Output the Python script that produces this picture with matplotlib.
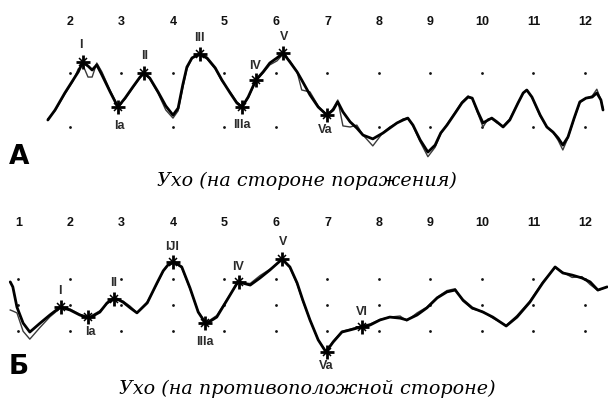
import matplotlib
matplotlib.use("Agg")
import matplotlib.pyplot as plt

# ---------------- data ----------------
# Panel A (affected side): latency (ms) and amplitude (grid units)
a_time = [1.57, 1.71, 1.90, 2.06, 2.16, 2.25, 2.35, 2.43, 2.52, 2.62, 2.78, 2.93, 3.07, 3.22, 3.36,
          3.44, 3.55, 3.71, 3.86, 4.00, 4.10, 4.19, 4.27, 4.37, 4.52, 4.66, 4.82, 4.95, 5.11, 5.24,
          5.34, 5.46, 5.61, 5.75, 5.88, 6.02, 6.14, 6.27, 6.41, 6.50, 6.66, 6.82, 6.99, 7.11, 7.20,
          7.30, 7.44, 7.57, 7.69, 7.88, 8.08, 8.21, 8.35, 8.47, 8.56, 8.66, 8.80, 8.95, 9.09, 9.20,
          9.32, 9.48, 9.61, 9.73, 9.81, 9.92, 10.02, 10.12, 10.19, 10.29, 10.41, 10.54, 10.70, 10.80,
          10.87, 10.97, 11.13, 11.26, 11.38, 11.48, 11.57, 11.67, 11.79, 11.90, 12.02, 12.14, 12.23,
          12.31, 12.35]
a_trace1 = [-0.74, -0.37, 0.26, 0.74, 1.04, 1.41, 1.26, 1.11, 1.30, 0.93, 0.30, -0.26, 0.07, 0.48, 0.85,
            1.00, 0.81, 0.30, -0.22, -0.56, -0.30, 0.56, 1.22, 1.56, 1.70, 1.56, 1.19, 0.74, 0.26, -0.11,
            -0.26, 0.11, 0.74, 1.04, 1.37, 1.56, 1.74, 1.41, 1.04, 0.74, 0.19, -0.26, -0.56, -0.37, -0.07,
            -0.44, -0.81, -1.04, -1.30, -1.44, -1.22, -1.04, -0.85, -0.74, -0.67, -0.93, -1.48, -1.93, -1.67, -1.22,
            -0.93, -0.48, -0.11, 0.11, 0.07, -0.44, -0.85, -0.74, -0.67, -0.81, -1.00, -0.74, -0.11, 0.26,
            0.37, 0.11, -0.56, -1.00, -1.19, -1.41, -1.67, -1.37, -0.67, -0.07, 0.07, 0.11, 0.26,
            0.00, -0.37]
a_trace2 = [-0.70, -0.40, 0.22, 0.70, 1.15, 1.30, 0.85, 0.85, 1.37, 1.04, 0.35, -0.22, 0.04, 0.45, 0.82,
            0.98, 0.78, 0.25, -0.37, -0.67, -0.40, 0.45, 1.15, 1.55, 1.68, 1.52, 1.15, 0.70, 0.30, -0.07,
            -0.26, 0.07, 0.70, 1.00, 1.30, 1.45, 1.70, 1.45, 1.04, 0.37, 0.30, -0.22, -0.60, -0.30, 0.00,
            -0.96, -1.00, -0.93, -1.30, -1.70, -1.20, -1.00, -0.85, -0.70, -0.67, -0.96, -1.55, -2.10, -1.75, -1.25,
            -0.90, -0.45, -0.07, 0.15, 0.07, -0.50, -1.00, -0.70, -0.70, -0.85, -0.96, -0.70, -0.10, 0.26,
            0.37, 0.10, -0.60, -1.00, -1.20, -1.50, -1.85, -1.40, -0.70, -0.10, 0.07, 0.15, 0.40,
            0.00, -0.30]
a_peak_names = ["I", "Ia", "II", "III", "IIIa", "IV", "V", "Va"]
a_peak_time = [2.25, 2.93, 3.44, 4.52, 5.34, 5.61, 6.14, 6.99]
a_peak_amp = [1.41, -0.26, 1.00, 1.70, -0.26, 0.74, 1.74, -0.56]
a_label_time = [2.21, 2.95, 3.44, 4.52, 5.34, 5.59, 6.16, 6.95]
a_label_amp = [2.04, -0.96, 1.63, 2.30, -0.93, 1.26, 2.33, -1.11]
a_ticks = [2, 3, 4, 5, 6, 7, 8, 9, 10, 11, 12]
a_dot_rows = [1, -1]

# Panel B (opposite side)
b_time = [0.84, 0.89, 0.97, 1.09, 1.22, 1.42, 1.61, 1.81, 2.00, 2.19, 2.37, 2.58, 2.72, 2.87, 3.03,
          3.17, 3.30, 3.50, 3.69, 3.81, 3.90, 4.02, 4.17, 4.33, 4.49, 4.64, 4.85, 5.05, 5.26, 5.50,
          5.69, 5.88, 6.12, 6.27, 6.41, 6.52, 6.66, 6.82, 6.97, 7.11, 7.28, 7.44, 7.65, 7.83, 8.02,
          8.21, 8.41, 8.54, 8.74, 8.93, 9.13, 9.32, 9.48, 9.63, 9.81, 10.02, 10.21, 10.47, 10.68, 10.93,
          11.18, 11.42, 11.57, 11.75, 11.94, 12.10, 12.25, 12.43]
b_trace1 = [0.88, 0.69, -0.08, -0.69, -1.03, -0.69, -0.38, -0.08, -0.19, -0.38, -0.50, -0.27, 0.08, 0.27, 0.11,
            -0.11, -0.30, 0.08, 0.84, 1.30, 1.52, 1.64, 1.45, 0.65, -0.27, -0.72, -0.46, 0.19, 0.88, 0.76,
            1.03, 1.33, 1.75, 1.45, 0.84, 0.19, -0.57, -1.33, -1.79, -1.41, -1.03, -0.95, -0.84, -0.76, -0.57,
            -0.46, -0.50, -0.57, -0.38, -0.11, 0.27, 0.50, 0.57, 0.19, -0.11, -0.27, -0.46, -0.80, -0.46, 0.11,
            0.84, 1.45, 1.22, 1.14, 1.03, 0.88, 0.57, 0.69]
b_trace2 = [-0.19, -0.23, -0.30, -1.00, -1.30, -0.85, -0.45, -0.12, -0.15, -0.35, -0.46, -0.22, 0.05, 0.24, 0.15,
            -0.05, -0.30, 0.12, 0.80, 1.28, 1.52, 1.62, 1.42, 0.62, -0.25, -0.68, -0.40, 0.22, 0.85, 0.82,
            1.12, 1.36, 1.72, 1.42, 0.80, 0.15, -0.57, -1.33, -1.76, -1.38, -1.00, -0.92, -0.80, -0.72, -0.55,
            -0.46, -0.42, -0.60, -0.30, -0.08, 0.30, 0.55, 0.62, 0.15, -0.15, -0.25, -0.50, -0.78, -0.40, 0.15,
            0.88, 1.42, 1.25, 1.05, 1.08, 0.78, 0.55, 0.69]
b_peak_names = ["I", "Ia", "II", "IJI", "IIIa", "IV", "V", "Va", "VI"]
b_peak_time = [1.83, 2.35, 2.85, 4.00, 4.62, 5.28, 6.12, 6.99, 7.67]
b_peak_amp = [-0.08, -0.46, 0.23, 1.64, -0.69, 0.88, 1.75, -1.79, -0.84]
b_label_time = [1.81, 2.39, 2.85, 3.98, 4.62, 5.26, 6.14, 6.97, 7.67]
b_label_amp = [0.53, -1.03, 0.84, 2.21, -1.41, 1.45, 2.40, -2.32, -0.27]
b_ticks = [1, 2, 3, 4, 5, 6, 7, 8, 9, 10, 11, 12]
b_dot_rows = [1, 0, -1]

caption_a = "Ухо (на стороне поражения)"
caption_b = "Ухо (на противоположной стороне)"

# ---------------- figure ----------------
W, H = 608, 403
fig = plt.figure(figsize=(W / 100, H / 100), dpi=100)

label_font = dict(family=["Liberation Sans Narrow", "Liberation Sans", "DejaVu Sans"], fontsize=9,
                  fontweight="bold", color="#2a2a2a", ha="center", va="center", zorder=5,
                  bbox=dict(facecolor="white", edgecolor="none", pad=0.3))
tick_font = dict(family=["Liberation Sans Narrow", "Liberation Sans", "DejaVu Sans"], fontsize=9,
                 fontweight="bold", color="#111111", ha="center", va="center")


def panel(rect, ylim, time, tr1, tr2, ptime, pamp, names, ltime, lamp, ticks, rows, tick_y):
    ax = fig.add_axes(rect)
    ax.set_xlim(0.641, 12.447)
    ax.set_ylim(*ylim)
    ax.axis("off")
    for r in rows:
        ax.plot(ticks, [r] * len(ticks), ls="none", marker="o", ms=2.0, color="#111111", mew=0,
                zorder=1)
    ax.plot(time, tr2, color="#3a3a3a", lw=1.0, solid_joinstyle="round", zorder=2)
    ax.plot(time, tr1, color="black", lw=2.0, solid_joinstyle="round", solid_capstyle="round",
            zorder=3)
    for n, x, y in zip(names, ltime, lamp):
        ax.text(x, y, n, **label_font)
    ax.plot(ptime, pamp, ls="none", marker="+", ms=10, mew=2.0, color="black", zorder=6)
    ax.plot(ptime, pamp, ls="none", marker="x", ms=5.5, mew=1.1, color="black", zorder=6)
    for k in ticks:
        ax.text(k, tick_y, str(k), **tick_font)
    return ax


panel([0, 1 - 200 / H, 1, 200 / H], (-3.704, 3.704), a_time, a_trace1, a_trace2,
      a_peak_time, a_peak_amp, a_peak_names, a_label_time, a_label_amp, a_ticks, a_dot_rows, 2.89)
panel([0, 0, 1, 203 / H], (-3.733, 4.0), b_time, b_trace1, b_trace2,
      b_peak_time, b_peak_amp, b_peak_names, b_label_time, b_label_amp, b_ticks, b_dot_rows, 3.12)

fig.text(19 / W, 1 - 157 / H, "А", fontsize=19, fontweight="bold", family="DejaVu Sans",
         ha="center", va="center", zorder=10,
         bbox=dict(facecolor="white", edgecolor="none", pad=1))
fig.text(19 / W, 1 - 367 / H, "Б", fontsize=19, fontweight="bold", family="DejaVu Sans",
         ha="center", va="center", zorder=10,
         bbox=dict(facecolor="white", edgecolor="none", pad=1))
fig.text(307 / W, 1 - 181 / H, caption_a, fontsize=13.8, style="italic", family="DejaVu Serif",
         ha="center", va="center")
fig.text(307 / W, 1 - 389 / H, caption_b, fontsize=13.8, style="italic", family="DejaVu Serif",
         ha="center", va="center")

fig.savefig("out.png", dpi=100)
